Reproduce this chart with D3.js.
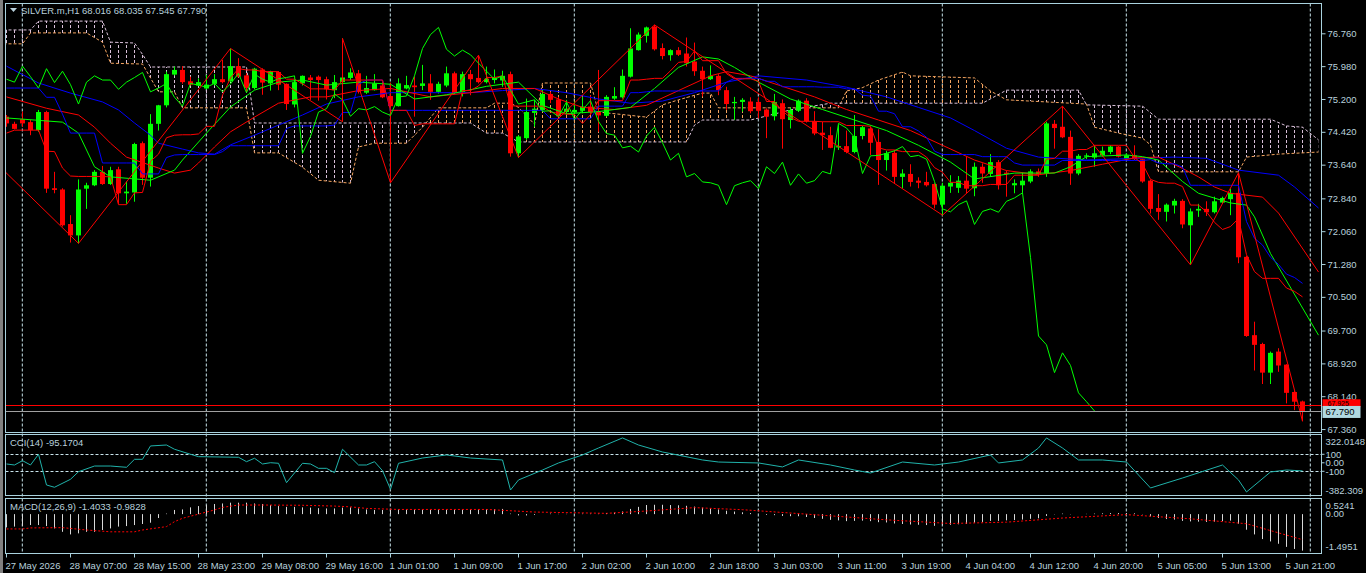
<!DOCTYPE html>
<html>
<head>
<meta charset="utf-8">
<script src="https://cdnjs.cloudflare.com/ajax/libs/d3/7.8.5/d3.min.js"></script>
<style>
  body { margin: 0; background: #000; overflow: hidden; }
  text { font-family: "Liberation Sans", Arial, sans-serif; font-size: 9.5px; fill: #b8d0dc; }
</style>
</head>
<body>
<script>
//candles, one entry per H1 bar (27 May 23:00 .. 5 Jun 23:00)
var opens = [74.78,74.61,74.72,74.65,74.46,74.89,73.08,73.05,72.23,71.96,
  73.07,73.15,73.47,73.18,73.53,72.96,72.98,74.15,73.33,74.61,
  75.05,75.78,75.89,75.62,75.52,75.45,75.56,75.67,75.62,75.98,
  75.76,75.46,75.90,75.57,75.84,75.56,75.07,75.57,75.71,75.73,
  75.67,75.41,75.60,75.70,75.81,75.35,75.41,75.52,75.27,75.03,
  75.45,75.52,75.51,75.57,75.37,75.52,75.81,75.37,75.79,75.70,
  75.60,75.65,75.64,75.79,73.91,74.27,74.87,74.94,75.32,75.19,
  74.89,74.88,74.92,75.02,74.90,74.80,75.21,75.24,75.73,76.36,
  76.70,76.92,76.41,76.24,76.36,76.28,76.09,75.87,75.67,75.75,
  75.41,75.10,75.13,75.14,75.13,74.95,74.79,75.10,74.70,74.92,
  75.16,74.67,74.40,74.34,74.05,74.08,73.94,74.32,74.50,74.18,
  73.75,73.92,73.35,73.42,73.26,73.23,73.18,72.69,73.12,73.09,
  73.26,73.08,73.59,73.42,73.70,73.45,73.15,73.15,73.24,73.48,
  73.43,74.61,74.54,74.30,73.43,73.83,73.81,73.86,73.94,74.07,
  73.78,73.86,73.77,73.26,72.61,72.52,72.67,72.78,72.20,72.55,
  72.59,72.51,72.74,72.82,72.97,71.45,69.59,69.38,68.70,69.20,
  68.89,68.24,68.016];
var highs = [74.82,74.66,74.90,74.70,74.94,74.92,73.47,73.08,72.44,73.29,
  73.21,73.51,73.61,73.59,73.59,73.24,74.16,74.19,74.84,75.06,
  75.85,75.97,75.98,75.73,75.69,75.77,75.79,76.13,76.40,76.17,
  75.81,75.94,75.93,75.87,75.86,75.57,75.65,75.76,75.77,75.76,
  75.73,75.77,76.64,75.93,75.89,75.75,75.79,75.61,75.59,75.69,
  75.75,75.73,76.01,75.79,75.61,75.97,75.85,75.85,75.89,76.24,
  75.97,75.90,75.87,75.85,74.34,75.21,75.18,75.43,75.37,75.25,
  75.18,75.14,75.25,75.29,75.89,75.29,75.48,75.90,76.88,76.78,
  76.92,76.96,76.52,76.38,76.43,76.66,76.54,75.97,76.00,75.79,
  75.49,75.25,75.22,75.24,75.24,74.98,75.32,75.19,75.00,75.19,
  75.22,74.91,74.66,74.54,74.58,74.45,74.82,74.56,74.54,74.48,
  73.97,73.99,73.53,73.65,73.34,73.47,73.20,73.21,73.39,73.37,
  73.83,73.69,73.67,73.89,73.75,73.50,73.29,73.45,73.53,73.55,
  74.66,74.70,75.03,74.45,73.89,73.91,74.10,74.07,74.10,74.08,
  73.91,74.10,73.78,73.28,72.94,72.72,72.83,72.82,72.60,72.71,
  72.77,72.88,72.88,73.07,73.45,71.47,69.91,69.41,69.20,69.28,
  68.90,68.27,68.035];
var lows = [74.54,74.48,74.54,74.34,74.42,72.97,72.96,72.17,71.79,71.77,
  72.59,73.13,73.16,73.16,72.71,72.71,72.76,73.16,73.12,74.45,
  75.00,75.76,75.56,75.52,75.51,75.43,75.52,75.57,75.60,75.71,
  75.37,75.43,75.30,75.40,75.41,74.94,75.00,75.52,75.18,75.16,
  75.19,75.22,74.66,75.65,75.33,75.32,75.40,75.22,73.21,75.02,
  75.43,74.78,75.41,75.18,75.33,75.48,75.32,75.26,75.29,75.57,
  75.57,75.57,75.49,73.83,73.81,74.23,74.54,74.90,75.10,74.76,
  74.82,74.82,74.86,74.82,74.42,74.78,75.18,75.21,75.71,76.35,
  76.54,76.35,76.14,76.11,76.22,75.97,75.75,75.26,75.65,75.29,
  74.94,74.70,74.90,74.86,74.74,74.27,74.69,74.02,74.50,74.89,
  74.64,74.34,73.99,74.03,73.99,73.91,73.91,74.24,73.87,73.16,
  73.50,73.20,73.08,73.12,73.08,73.12,72.60,72.44,72.97,72.97,
  72.96,72.89,73.21,73.35,73.05,72.88,72.96,72.97,73.20,73.35,
  73.35,74.02,74.27,73.16,73.39,73.77,73.59,73.83,73.89,73.81,
  73.77,73.75,73.21,72.48,72.33,72.29,72.48,72.13,71.26,72.40,
  72.42,72.48,72.71,72.44,71.30,69.55,68.75,68.43,68.43,68.72,
  67.97,67.81,67.545];
var closes = [74.62,74.49,74.62,74.46,74.89,73.07,73.04,72.20,71.96,73.05,
  73.15,73.47,73.18,73.51,72.96,73.00,74.13,73.33,74.61,75.05,
  75.79,75.89,75.60,75.54,75.60,75.54,75.67,75.60,75.98,75.73,
  75.46,75.92,75.59,75.86,75.54,75.08,75.60,75.75,75.65,75.65,
  75.43,75.60,75.71,75.83,75.37,75.46,75.57,75.24,75.03,75.57,
  75.53,75.48,75.57,75.37,75.56,75.81,75.35,75.79,75.67,75.60,
  75.68,75.71,75.75,73.91,74.31,74.89,74.97,75.32,75.18,74.79,
  74.97,74.94,75.02,74.89,74.81,75.25,75.27,75.75,76.40,76.73,
  76.90,76.38,76.22,76.36,76.25,76.05,75.86,75.67,75.75,75.41,
  75.08,75.13,75.18,74.91,74.92,74.78,75.13,74.72,74.94,75.16,
  74.67,74.38,74.34,74.04,74.08,73.94,74.32,74.53,74.16,73.75,
  73.91,73.35,73.43,73.23,73.21,73.15,72.69,73.14,73.21,73.26,
  73.07,73.59,73.43,73.70,73.15,73.42,73.20,73.26,73.48,73.42,
  74.62,74.51,74.29,73.43,73.85,73.86,73.91,73.97,74.07,73.83,
  73.86,73.77,73.24,72.59,72.52,72.69,72.78,72.22,72.53,72.59,
  72.51,72.77,72.85,72.97,71.44,69.57,69.36,68.70,69.17,68.87,
  68.22,68.01,67.79];

//ichimoku tenkan-sen (red) and kijun-sen (blue), one value per bar
var tenkan = [74.39,74.46,74.46,74.46,74.46,73.96,73.95,73.56,73.37,73.36,
  73.36,73.36,73.36,73.35,72.69,72.69,72.97,72.98,73.72,73.89,
  74.28,74.34,74.35,74.35,74.37,74.55,74.55,75.29,75.70,75.92,
  75.89,75.89,75.85,75.85,75.85,75.67,75.67,75.56,75.44,75.44,
  75.44,75.41,75.65,75.65,75.65,75.65,75.65,75.65,74.93,74.93,
  74.93,74.57,74.61,74.61,74.61,74.61,74.61,75.40,75.40,75.51,
  75.71,75.71,75.75,75.04,75.03,75.03,75.03,75.03,74.89,74.86,
  74.84,74.83,74.62,74.83,75.16,75.16,75.16,75.16,75.65,75.65,
  75.67,75.69,75.69,75.87,76.07,76.09,76.34,76.11,76.11,76.11,
  75.80,75.68,75.68,75.68,75.62,75.14,75.14,74.91,74.76,74.67,
  74.67,74.67,74.66,74.66,74.66,74.57,74.57,74.57,74.55,74.04,
  73.99,73.99,73.95,73.95,73.95,73.82,73.57,73.46,73.22,73.22,
  73.14,73.14,73.14,73.17,73.17,73.17,73.39,73.39,73.39,73.39,
  73.77,73.79,73.96,73.96,74.00,74.00,74.10,74.10,74.10,74.10,
  74.10,73.81,73.66,73.29,73.22,73.20,73.20,73.12,72.68,72.68,
  72.52,72.27,72.10,72.17,72.36,71.50,71.10,70.94,70.94,70.94,
  70.71,70.63,70.50];
var kijun = [75.46,75.46,75.46,75.46,75.46,75.24,75.24,74.84,74.39,74.39,
  74.39,74.39,73.68,73.68,73.68,73.68,73.68,73.42,73.42,73.42,
  73.81,73.87,73.88,73.88,73.88,73.88,73.88,73.95,74.09,74.09,
  74.09,74.09,74.09,74.09,74.09,74.50,74.56,74.56,74.56,74.56,
  74.56,74.58,74.88,74.88,75.55,75.65,75.65,75.65,74.93,74.93,
  74.93,74.93,74.93,74.93,74.93,74.93,74.93,74.93,74.93,74.93,
  74.93,74.93,74.93,74.93,74.93,74.93,74.93,74.93,74.73,74.73,
  74.73,74.73,74.73,74.73,75.03,75.03,75.03,75.03,75.35,75.35,
  75.37,75.39,75.39,75.39,75.39,75.39,75.39,75.39,75.39,75.39,
  75.60,75.69,75.69,75.69,75.69,75.62,75.62,75.49,75.49,75.49,
  75.49,75.49,75.48,75.48,75.48,75.44,75.44,75.29,75.27,74.91,
  74.91,74.85,74.54,74.54,74.44,74.29,73.96,73.88,73.88,73.88,
  73.88,73.88,73.83,73.83,73.83,73.83,73.68,73.63,73.63,73.63,
  73.63,73.63,73.74,73.74,73.74,73.74,73.74,73.74,73.74,73.74,
  73.74,73.74,73.74,73.76,73.68,73.66,73.66,73.58,73.15,73.15,
  73.15,73.15,73.15,73.15,73.15,72.29,71.89,71.73,71.44,71.27,
  71.04,70.96,70.82];

//ichimoku cloud edges [bar, price]
var spanA = [[-1,76.51],[2,76.51],[3,76.77],[10,76.77],[12,76.55],[13,76.05],[17,76.03],[18,75.70],
  [19,75.37],[21,75.37],[22,74.99],[30,74.99],[31,73.92],[34,73.92],[37,73.58],[39,73.27],[43,73.20],
  [44,74.06],[46,74.15],[50,74.15],[52,74.53],[54,74.99],[60,74.99],[61,75.10],[63,75.10],[64,75.00],
  [66,74.60],[67,75.58],[73,75.58],[74,74.89],[80,74.77],[82,75.06],[84,75.18],[87,75.34],[88,75.34],
  [89,74.99],[104,74.99],[105,75.39],[107,75.47],[109,75.65],[112,75.84],[113,75.75],[121,75.70],
  [123,75.39],[125,75.18],[135,75.08],[136,74.53],[139,74.39],[142,74.27],[143,74.11],[144,73.47],
  [154,73.47],[155,73.82],[159,73.89],[164,73.94]];
var spanB = [[-1,76.84],[3,76.84],[4,77.05],[12,77.05],[13,76.55],[16,76.53],[17,76.26],[18,75.96],
  [30,75.96],[31,74.63],[58,74.63],[60,74.39],[62,74.39],[64,74.18],[85,74.18],[86,74.58],[87,74.70],
  [93,74.70],[98,74.94],[103,75.10],[122,75.10],[125,75.41],[134,75.41],[135,75.06],[142,75.03],
  [144,74.72],[158,74.72],[160,74.56],[162,74.53],[164,74.23]];

//alligator jaw (blue), teeth (red), lips (lime) [bar, price]
var jawPts = [[0,75.98],[4,75.58],[8,75.34],[12,75.13],[14,74.94],[16,74.63],[18,74.34],[19,74.15],
  [22,74.01],[24,73.92],[26,73.89],[28,74.11],[31,74.34],[34,74.58],[37,74.82],[40,75.08],[44,75.25],
  [48,75.35],[53,75.35],[58,75.35],[62,75.40],[66,75.45],[70,75.35],[74,75.20],[78,75.10],[82,75.15],
  [86,75.35],[90,75.60],[94,75.75],[100,75.65],[105,75.48],[110,75.25],[114,75.00],[118,74.75],
  [121,74.45],[125,74.03],[129,73.82],[135,73.75],[146,73.82],[150,73.79],[154,73.51],[159,73.39],
  [161,73.11],[164,72.61]];
var teethPts = [[0,75.25],[5,74.98],[9,74.82],[11,74.53],[13,74.15],[15,73.82],[19,73.56],[21,73.44],
  [23,73.51],[24,73.68],[26,74.06],[28,74.42],[31,74.77],[34,75.10],[38,75.25],[40,75.25],[44,75.40],
  [48,75.45],[53,75.25],[58,75.35],[62,75.45],[66,75.45],[69,75.20],[72,75.00],[76,74.95],[80,75.05],
  [84,75.40],[88,75.75],[90,75.85],[93,75.75],[97,75.50],[101,75.25],[105,74.95],[109,74.70],
  [113,74.45],[117,74.10],[121,73.75],[125,73.50],[129,73.40],[133,73.50],[137,73.65],[141,73.80],
  [144,73.82],[147,73.55],[149,73.35],[151,73.11],[153,72.96],[157,72.87],[159,72.49],[164,71.09]];
var lipsPts = [[0,74.75],[7,74.65],[9,74.39],[11,73.59],[13,73.35],[18,73.27],[21,73.51],[22,73.75],
  [25,74.39],[28,75.01],[31,75.41],[34,75.60],[37,75.65],[40,75.53],[44,75.60],[48,75.55],[51,75.20],
  [55,75.30],[60,75.50],[64,75.60],[67,75.05],[70,74.85],[74,74.90],[78,75.00],[81,75.45],[84,75.95],
  [87,76.20],[89,76.15],[91,75.95],[94,75.60],[98,75.20],[102,74.95],[106,74.70],[110,74.45],
  [114,74.10],[118,73.70],[121,73.30],[126,73.44],[131,73.44],[133,73.59],[135,73.83],[140,73.87],
  [142,73.83],[144,73.75],[147,73.24],[149,72.96],[153,72.73],[155,72.68],[156,72.40],[158,71.53],
  [164,69.59]];

//zigzag turning points [bar, price]; bar 42 is both a low and a high
var zigzagPts = [[-4,74.18],[9,71.77],[28,76.40],[42,74.66],[42,76.64],[48,73.21],[59,76.24],[64,73.81],
  [81,76.96],[117,72.44],[132,75.03],[148,71.26],[154,73.45],[162,67.545]];

//CCI(14) read points [bar, value]
var cciPts = [[0,-14],[1,-26],[2,25],[3,-26],[4,100],[5,-261],[6,-288],[8,-194],[9,-105],[11,-38],
  [13,-38],[15,-53],[16,41],[17,41],[18,198],[20,209],[21,159],[23,100],[24,72],[29,65],
  [30,13],[31,53],[32,-14],[33,1],[34,-6],[35,-234],[37,-6],[38,-14],[39,-65],[40,-65],
  [41,-116],[42,159],[44,-26],[45,-26],[46,13],[47,-93],[48,-312],[49,-6],[52,56],[55,92],
  [58,56],[62,33],[63,-320],[64,-202],[67,-85],[69,-2],[72,92],[74,174],[77,292],[79,209],
  [82,127],[87,33],[89,9],[94,-2],[97,-49],[99,33],[103,-26],[106,-85],[108,-120],[112,9],
  [116,-26],[119,9],[123,92],[124,-2],[127,33],[129,174],[130,292],[132,174],[134,33],[137,33],
  [140,9],[143,-296],[147,-179],[152,-26],[154,-202],[155,-343],[158,-108],[160,-85],[162,-95.17]];

//MACD(12,26,9) main histogram, one value per bar
var macdMain = [-0.51,-0.48,-0.46,-0.42,-0.42,-0.46,-0.55,-0.68,-0.78,-0.74,
  -0.68,-0.68,-0.61,-0.55,-0.48,-0.46,-0.42,-0.38,-0.33,-0.15,
  0.02,0.16,0.18,0.26,0.31,0.35,0.39,0.41,0.44,0.44,
  0.44,0.41,0.39,0.35,0.31,0.28,0.28,0.26,0.25,0.23,
  0.22,0.22,0.25,0.26,0.22,0.18,0.16,0.16,0.16,0.18,
  0.18,0.17,0.17,0.16,0.16,0.17,0.17,0.18,0.18,0.19,
  0.19,0.19,0.20,0.02,-0.05,-0.05,-0.03,0.00,0.02,0.01,
  0.01,0.01,0.02,0.02,0.02,0.04,0.06,0.10,0.20,0.28,
  0.35,0.36,0.36,0.35,0.34,0.32,0.29,0.25,0.22,0.18,
  0.13,0.10,0.07,0.04,0.01,-0.03,-0.04,-0.07,-0.08,-0.08,
  -0.11,-0.15,-0.18,-0.22,-0.24,-0.27,-0.26,-0.25,-0.27,-0.31,
  -0.32,-0.36,-0.38,-0.40,-0.41,-0.42,-0.45,-0.43,-0.41,-0.39,
  -0.38,-0.33,-0.30,-0.26,-0.26,-0.24,-0.23,-0.21,-0.18,-0.16,
  -0.07,-0.01,0.02,-0.01,0.00,0.01,0.02,0.03,0.04,0.04,
  0.04,0.03,-0.01,-0.09,-0.15,-0.19,-0.21,-0.26,-0.28,-0.29,
  -0.30,-0.29,-0.27,-0.25,-0.37,-0.60,-0.78,-0.96,-1.05,-1.14,
  -1.26,-1.34,-1.4033];
//MACD signal read points [bar, value]
var macdSignalPts = [[0,-0.57],[2,-0.57],[3,-0.53],[7,-0.52],[10,-0.61],[13,-0.68],[16,-0.68],[17,-0.61],
  [20,-0.48],[21,-0.29],[22,-0.16],[24,0.00],[26,0.16],[27,0.26],[29,0.35],[32,0.35],[37,0.34],
  [41,0.31],[43,0.28],[45,0.22],[49,0.18],[60,0.18],[66,0.08],[75,0.03],[80,0.12],[86,0.25],
  [92,0.17],[100,0.00],[110,-0.22],[118,-0.36],[125,-0.31],[132,-0.15],[140,-0.02],[148,-0.18],
  [155,-0.37],[162,-0.9828]];

//axis labels
var priceTicks = [76.760,75.980,75.200,74.420,73.640,72.840,72.060,71.280,70.500,69.700,68.920,68.140,67.360];
var timeLabels = [[0,"27 May 2026"],[8,"28 May 07:00"],[16,"28 May 15:00"],[24,"28 May 23:00"],
  [32,"29 May 08:00"],[40,"29 May 16:00"],[48,"1 Jun 01:00"],[56,"1 Jun 09:00"],[64,"1 Jun 17:00"],
  [72,"2 Jun 02:00"],[80,"2 Jun 10:00"],[88,"2 Jun 18:00"],[96,"3 Jun 03:00"],[104,"3 Jun 11:00"],
  [112,"3 Jun 19:00"],[120,"4 Jun 04:00"],[128,"4 Jun 12:00"],[136,"4 Jun 20:00"],[144,"5 Jun 05:00"],
  [152,"5 Jun 13:00"],[160,"5 Jun 21:00"]];
var gridBars = [2,25,48,71,94,117,140,163];
var bidPrice = 67.790, askPrice = 67.925;
var chikouShift = 26;

(function chart(){
  var W = 1366, H = 573;
  var frameColor = "#a9d2de", textColor = "#b8d0dc";
  var main = {top: 3.5, bottom: 432.5}, cci = {top: 434.5, bottom: 495.5}, macd = {top: 498.5, bottom: 553.5};
  var left = 5.5, right = 1321.5;

  var svg = d3.select("body").append("svg").attr("width", W).attr("height", H);

  //scales
  var x = d3.scaleLinear().domain([0, 162]).range([6.5, 1302.5]);
  var yMain = d3.scaleLinear().domain([67.29, 77.48]).range([432, 3]);
  var yCci = d3.scaleLinear().domain([-382.3092, 322.0148]).range([495.3, 435.4]);
  var yMacd = d3.scaleLinear().domain([-1.4951, 0.5241]).range([553, 500.5]);

  //clip paths for the three panes
  var defs = svg.append("defs");
  [["clipMain", main], ["clipCci", cci], ["clipMacd", macd]].forEach(function(c){
    defs.append("clipPath").attr("id", c[0]).append("rect")
      .attr("x", left).attr("y", c[1].top).attr("width", right - left).attr("height", c[1].bottom - c[1].top);
  });

  //dotted hatching used inside the cloud, one stroke per bar
  [["hatchA", "#f4a460"], ["hatchB", "#d8bfd8"]].forEach(function(h){
    var p = defs.append("pattern").attr("id", h[0]).attr("patternUnits", "userSpaceOnUse")
      .attr("x", 0).attr("y", 0).attr("width", 8).attr("height", 5);
    p.append("rect").attr("x", 6).attr("y", 0).attr("width", 1).attr("height", 3).attr("fill", h[1]);
  });
  //clip regions: above span B / above span A
  var aboveArea = d3.area().x(function(d){ return x(d[0]); }).y0(0).y1(function(d){ return yMain(d[1]); });
  var belowArea = d3.area().x(function(d){ return x(d[0]); }).y0(H).y1(function(d){ return yMain(d[1]); });
  defs.append("clipPath").attr("id", "aboveB").append("path").attr("d", aboveArea(spanB));
  defs.append("clipPath").attr("id", "aboveA").append("path").attr("d", aboveArea(spanA));

  //vertical dashed grid through all panes
  svg.append("g").selectAll("line").data(gridBars).enter().append("line")
    .attr("x1", function(d){ return x(d) - 0.2; }).attr("x2", function(d){ return x(d) - 0.2; })
    .attr("y1", main.top).attr("y2", macd.bottom)
    .attr("stroke", "#c8e4ec").attr("stroke-dasharray", "3,2");

  //main pane
  var mainG = svg.append("g").attr("clip-path", "url(#clipMain)");
  var ptLine = d3.line().x(function(d){ return x(d[0]); }).y(function(d){ return yMain(d[1]); });
  var barLine = d3.line().x(function(d, i){ return x(i); }).y(function(d){ return yMain(d); });

  //cloud: sandybrown where A is above B, thistle where B is above A
  mainG.append("g").attr("clip-path", "url(#aboveB)").append("path")
    .attr("d", belowArea(spanA)).attr("fill", "url(#hatchA)");
  mainG.append("g").attr("clip-path", "url(#aboveA)").append("path")
    .attr("d", belowArea(spanB)).attr("fill", "url(#hatchB)");
  mainG.append("path").datum(spanA).attr("d", ptLine).attr("fill", "none")
    .attr("stroke", "#f4a460").attr("stroke-dasharray", "3,2");
  mainG.append("path").datum(spanB).attr("d", ptLine).attr("fill", "none")
    .attr("stroke", "#d8bfd8").attr("stroke-dasharray", "3,2");

  //candles
  var idx = d3.range(opens.length);
  var candles = mainG.append("g").selectAll("g").data(idx).enter().append("g");
  candles.append("line")
    .attr("x1", function(i){ return x(i); }).attr("x2", function(i){ return x(i); })
    .attr("y1", function(i){ return yMain(highs[i]); }).attr("y2", function(i){ return yMain(lows[i]); })
    .attr("stroke", function(i){ return closes[i] >= opens[i] ? "#00ff00" : "#ff0000"; });
  candles.append("rect")
    .attr("x", function(i){ return x(i) - 2.5; }).attr("width", 5)
    .attr("y", function(i){ return yMain(Math.max(opens[i], closes[i])); })
    .attr("height", function(i){ return Math.max(1, yMain(Math.min(opens[i], closes[i])) - yMain(Math.max(opens[i], closes[i]))); })
    .attr("fill", function(i){ return closes[i] >= opens[i] ? "#00ff00" : "#ff0000"; });

  //alligator
  [[jawPts, "#0000ff"], [teethPts, "#ff0000"], [lipsPts, "#00ff00"]].forEach(function(s){
    mainG.append("path").datum(s[0]).attr("d", ptLine).attr("fill", "none").attr("stroke", s[1]);
  });

  //tenkan / kijun
  mainG.append("path").datum(kijun).attr("d", barLine).attr("fill", "none").attr("stroke", "#0000ff");
  mainG.append("path").datum(tenkan).attr("d", barLine).attr("fill", "none").attr("stroke", "#ff0000");

  //chikou span: closes drawn 26 bars back
  var chikou = d3.line().x(function(d){ return x(d - chikouShift); }).y(function(d){ return yMain(closes[d]); });
  mainG.append("path").datum(d3.range(chikouShift, closes.length))
    .attr("d", chikou).attr("fill", "none").attr("stroke", "#00ff00");

  //zigzag
  mainG.append("path").datum(zigzagPts).attr("d", ptLine)
    .attr("fill", "none").attr("stroke", "#ff0000");

  //ask and bid lines
  mainG.append("line").attr("x1", left).attr("x2", right)
    .attr("y1", Math.round(yMain(askPrice)) + 0.5).attr("y2", Math.round(yMain(askPrice)) + 0.5).attr("stroke", "#ff0000");
  mainG.append("line").attr("x1", left).attr("x2", right)
    .attr("y1", Math.round(yMain(bidPrice)) + 0.5).attr("y2", Math.round(yMain(bidPrice)) + 0.5).attr("stroke", "#a0a0a0");

  //CCI pane
  var cciG = svg.append("g").attr("clip-path", "url(#clipCci)");
  [100, -100].forEach(function(l){
    cciG.append("line").attr("x1", left).attr("x2", right)
      .attr("y1", Math.round(yCci(l)) + 0.5).attr("y2", Math.round(yCci(l)) + 0.5)
      .attr("stroke", "#c8e4ec").attr("stroke-dasharray", "3,2");
  });
  var cciLine = d3.line().x(function(d){ return x(d[0]); }).y(function(d){ return yCci(d[1]); });
  cciG.append("path").datum(cciPts).attr("d", cciLine).attr("fill", "none").attr("stroke", "#20b2aa");

  //MACD pane
  var macdG = svg.append("g").attr("clip-path", "url(#clipMacd)");
  macdG.append("g").selectAll("line").data(idx).enter().append("line")
    .attr("x1", function(i){ return x(i); }).attr("x2", function(i){ return x(i); })
    .attr("y1", yMacd(0)).attr("y2", function(i){ return yMacd(macdMain[i]); })
    .attr("stroke", "#d8d8d8");
  var sigLine = d3.line().x(function(d){ return x(d[0]); }).y(function(d){ return yMacd(d[1]); });
  macdG.append("path").datum(macdSignalPts).attr("d", sigLine)
    .attr("fill", "none").attr("stroke", "#ff0000").attr("stroke-dasharray", "2,2");

  //pane frames
  [main, cci, macd].forEach(function(p){
    svg.append("rect").attr("x", left).attr("y", p.top).attr("width", right - left).attr("height", p.bottom - p.top)
      .attr("fill", "none").attr("stroke", frameColor);
  });
  svg.append("rect").attr("x", 0).attr("y", 0).attr("width", 3).attr("height", H).attr("fill", "#808080");

  //price axis
  var priceAxis = d3.axisRight(yMain).tickValues(priceTicks).tickSize(4).tickPadding(2)
    .tickFormat(d3.format(".3f"));
  var pa = svg.append("g").attr("transform", "translate(" + right + ",0)").call(priceAxis);
  pa.select(".domain").remove();
  pa.selectAll("line").attr("stroke", frameColor);
  pa.selectAll("text").attr("fill", textColor).style("font-size", "9.5px").attr("font-family", null);

  //bid / ask price boxes (ask box sits just above the bid box)
  var askY = yMain(askPrice), bidY = yMain(bidPrice);
  svg.append("rect").attr("x", right + 1).attr("y", askY - 6).attr("width", 38).attr("height", 8).attr("fill", "#ff0000");
  svg.append("text").attr("x", right + 6).attr("y", askY + 1).text(d3.format(".3f")(askPrice))
    .style("fill", "#000").style("font-size", "7px");
  svg.append("rect").attr("x", right + 1).attr("y", bidY - 5).attr("width", 38).attr("height", 12).attr("fill", "#b0d8e0");
  svg.append("text").attr("x", right + 4).attr("y", bidY + 1).attr("dy", "0.35em").text(d3.format(".3f")(bidPrice)).style("fill", "#000");

  //CCI axis labels
  var cciLabels = [[yCci.range()[1] + 6, "322.0148"], [yCci(100), "100"], [yCci(0), "0.00"], [yCci(-100), "-100"], [yCci.range()[0] - 5, "-382.309"]];
  svg.append("g").selectAll("text").data(cciLabels).enter().append("text")
    .attr("x", right + 4).attr("y", function(d){ return d[0]; }).attr("dy", "0.35em").text(function(d){ return d[1]; });
  [100, 0, -100].forEach(function(l){
    svg.append("line").attr("x1", right).attr("x2", right + 3).attr("y1", yCci(l)).attr("y2", yCci(l)).attr("stroke", frameColor);
  });

  //MACD axis labels
  var macdLabels = [[yMacd.range()[1] + 5, "0.5241"], [yMacd(0), "0.00"], [yMacd.range()[0] - 6, "-1.4951"]];
  svg.append("g").selectAll("text").data(macdLabels).enter().append("text")
    .attr("x", right + 4).attr("y", function(d){ return d[0]; }).attr("dy", "0.35em").text(function(d){ return d[1]; });

  //time axis
  var ta = svg.append("g");
  ta.selectAll("line").data(timeLabels).enter().append("line")
    .attr("x1", function(d){ return x(d[0]); }).attr("x2", function(d){ return x(d[0]); })
    .attr("y1", macd.bottom).attr("y2", macd.bottom + 4).attr("stroke", frameColor);
  ta.selectAll("text").data(timeLabels).enter().append("text")
    .attr("x", function(d){ return x(d[0]) - 1; }).attr("y", 569).text(function(d){ return d[1]; });

  //pane titles
  svg.append("path").attr("d", "M10,8 L17,8 L13.5,12 Z").attr("fill", textColor);
  svg.append("text").attr("x", 21).attr("y", 14).text("SILVER.m,H1  68.016 68.035 67.545 67.790");
  svg.append("text").attr("x", 10).attr("y", 446).text("CCI(14) -95.1704");
  svg.append("text").attr("x", 10).attr("y", 510).text("MACD(12,26,9) -1.4033 -0.9828");
})();
</script>
</body>
</html>
